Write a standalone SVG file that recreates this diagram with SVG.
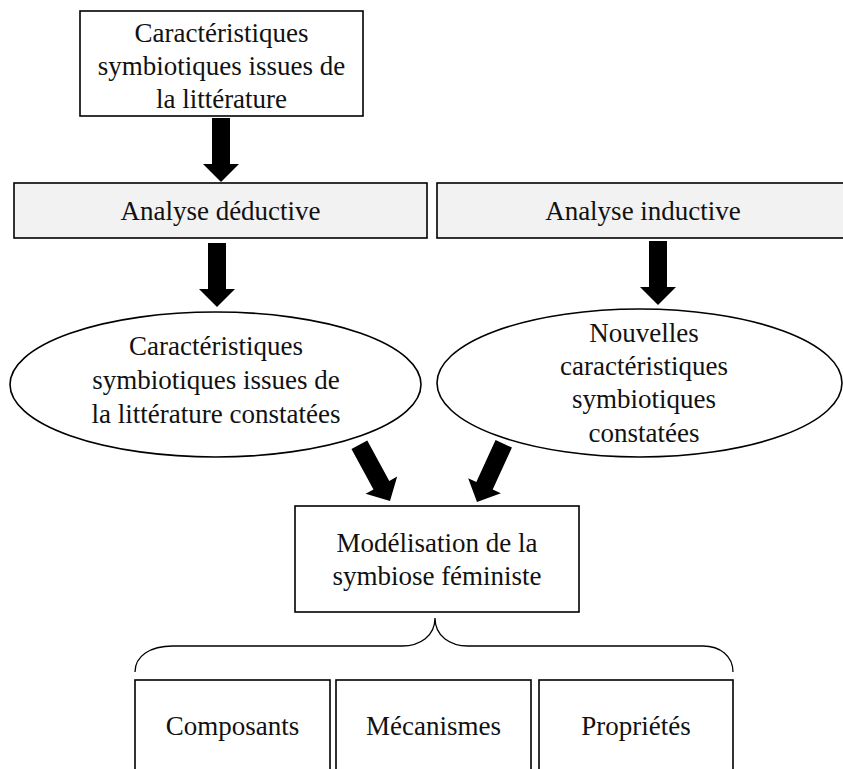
<svg xmlns="http://www.w3.org/2000/svg" width="843" height="769" viewBox="0 0 843 769">
  <style>
    .box { fill: #ffffff; stroke: #000; stroke-width: 1.6; }
    .gray { fill: #f2f2f2; stroke: #000; stroke-width: 1.6; }
    .ell { fill: #ffffff; stroke: #000; stroke-width: 1.6; }
    .brace { fill: none; stroke: #000; stroke-width: 1.3; }
    text { font-family: "Liberation Serif", "Times New Roman", serif; font-size: 27px; fill: #111; text-anchor: middle; }
  </style>
  <defs>
    <path id="arr" d="M-9,-64 H9 V-18 H18 L0,0 L-18,-18 H-9 Z" fill="#000"/>
  </defs>
  <rect width="843" height="769" fill="#ffffff"/>

  <g id="n-litterature">
    <rect class="box" x="80" y="11" width="283" height="105"/>
    <text x="221.5" y="42">Caractéristiques</text>
    <text x="221.5" y="75">symbiotiques issues de</text>
    <text x="221.5" y="108">la littérature</text>
  </g>

  <g id="n-deductive">
    <rect class="gray" x="14" y="183" width="413" height="55"/>
    <text x="220.5" y="220">Analyse déductive</text>
  </g>

  <g id="n-inductive">
    <rect class="gray" x="437" y="183" width="420" height="55"/>
    <text x="643" y="220">Analyse inductive</text>
  </g>

  <g id="n-constatees">
    <ellipse class="ell" cx="215.5" cy="384.5" rx="205.5" ry="72.5"/>
    <text x="216" y="355">Caractéristiques</text>
    <text x="216" y="389">symbiotiques issues de</text>
    <text x="216" y="423">la littérature constatées</text>
  </g>

  <g id="n-nouvelles">
    <ellipse class="ell" cx="639.5" cy="383" rx="202.5" ry="74"/>
    <text x="644" y="342">Nouvelles</text>
    <text x="644" y="375">caractéristiques</text>
    <text x="644" y="408">symbiotiques</text>
    <text x="644" y="442">constatées</text>
  </g>

  <g id="n-modelisation">
    <rect class="box" x="295" y="506" width="284" height="106"/>
    <text x="437" y="552">Modélisation de la</text>
    <text x="437" y="585">symbiose féministe</text>
  </g>

  <g id="n-composants">
    <rect class="box" x="135" y="680" width="195" height="120"/>
    <text x="232.5" y="735">Composants</text>
  </g>

  <g id="n-mecanismes">
    <rect class="box" x="336" y="680" width="195" height="120"/>
    <text x="433.5" y="735">Mécanismes</text>
  </g>

  <g id="n-proprietes">
    <rect class="box" x="539" y="680" width="194" height="120"/>
    <text x="636" y="735">Propriétés</text>
  </g>

  <g id="connectors">
    <use href="#arr" transform="translate(221,182)"/>
    <use href="#arr" transform="translate(217,307)"/>
    <use href="#arr" transform="translate(658,305)"/>
    <use href="#arr" transform="translate(390,501) rotate(-28.6)"/>
    <use href="#arr" transform="translate(477,502) rotate(24.7)"/>
    <path class="brace" d="M135,672 C135,656 150,646 173,646 H402 C420,646 435,636 435,618 C435,636 450,646 468,646 H703 C720,646 733,656 733,672"/>
  </g>
</svg>
